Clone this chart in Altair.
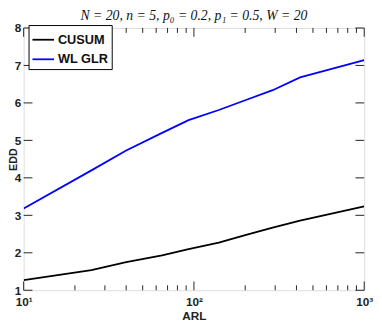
import altair as alt
import pandas as pd

# ---- data ----
arl = [10, 25, 40, 65, 93, 140, 200, 290, 420, 1000]
edd_cusum = [1.27, 1.54, 1.75, 1.93, 2.10, 2.27, 2.47, 2.67, 2.86, 3.24]
edd_wlglr = [3.18, 4.20, 4.73, 5.20, 5.54, 5.81, 6.07, 6.34, 6.68, 7.14]
series = ["CUSUM", "WL GLR"]
colors = ["#000000", "#0000FF"]

x_major = [10, 100, 1000]
x_minor = [20, 30, 40, 50, 60, 70, 80, 90, 200, 300, 400, 500, 600, 700, 800, 900]
y_major = [1, 2, 3, 4, 5, 6, 7, 8]

W, H = 348, 268
FONT = "Liberation Sans"

df = pd.DataFrame(
    {"ARL": arl * 2,
     "EDD": edd_cusum + edd_wlglr,
     "Method": [series[0]] * len(arl) + [series[1]] * len(arl)}
)

xscale = alt.Scale(type="log", domain=[10, 1000], nice=False)
yscale = alt.Scale(domain=[1, 8], nice=False, zero=False)

label_expr = "datum.value == 10 ? '10¹' : datum.value == 100 ? '10²' : '10³'"

x_axis = alt.Axis(title="ARL", values=x_major, labelExpr=label_expr,
                  ticks=False, domain=False, grid=False,
                  labelFlush=False, labelOverlap=False,
                  labelFont=FONT, labelFontWeight="bold", labelFontSize=12,
                  labelColor="#222222", labelPadding=7,
                  titleFont=FONT, titleFontWeight="bold", titleFontSize=12,
                  titleColor="#222222", titlePadding=3)
y_axis = alt.Axis(title="EDD", values=y_major, format="d",
                  ticks=False, domain=False, grid=False,
                  labelFlush=False, labelOverlap=False,
                  labelFont=FONT, labelFontWeight="bold", labelFontSize=12,
                  labelColor="#222222", labelPadding=3,
                  titleFont=FONT, titleFontWeight="bold", titleFontSize=11,
                  titleColor="#222222", titleX=-10, titleY=H / 2,
                  titleBaseline="middle")

lines = alt.Chart(df).mark_line(strokeWidth=1.8, clip=True).encode(
    x=alt.X("ARL:Q", scale=xscale, axis=x_axis),
    y=alt.Y("EDD:Q", scale=yscale, axis=y_axis),
    color=alt.Color("Method:N",
                    scale=alt.Scale(domain=series, range=colors),
                    legend=alt.Legend(title=None, orient="none", legendX=5, legendY=-3,
                                      symbolType="stroke", symbolSize=484,
                                      symbolStrokeWidth=1.8,
                                      labelFont=FONT, labelFontWeight="bold",
                                      labelFontSize=13, labelColor="#111111",
                                      strokeColor="#000000", fillColor="#ffffff",
                                      padding=3, rowPadding=1, labelOffset=3)),
)

def tick_layer(vals, channel, length, side):
    d = pd.DataFrame({"v": vals})
    base = alt.Chart(d).mark_rule(color="#222222", strokeWidth=1)
    if channel == "x":
        enc = dict(x=alt.X("v:Q", scale=xscale, axis=x_axis))
        if side == "bottom":
            enc.update(y=alt.value(H), y2=alt.value(H - length))
        else:
            enc.update(y=alt.value(0), y2=alt.value(length))
    else:
        enc = dict(y=alt.Y("v:Q", scale=yscale, axis=y_axis))
        if side == "left":
            enc.update(x=alt.value(0), x2=alt.value(length))
        else:
            enc.update(x=alt.value(W), x2=alt.value(W - length))
    return base.encode(**enc)

ticks = [
    tick_layer(x_major, "x", 9, "bottom"),
    tick_layer(x_minor, "x", 5, "bottom"),
    tick_layer(x_major, "x", 9, "top"),
    tick_layer(x_minor, "x", 5, "top"),
    tick_layer(y_major, "y", 9, "left"),
    tick_layer(y_major, "y", 9, "right"),
]

chart = alt.layer(lines, *ticks).properties(
    width=W, height=H,
    title=alt.TitleParams("N = 20, n = 5, p₀ = 0.2, p₁ = 0.5, W = 20",
                          font="Liberation Serif", fontSize=14, fontWeight="normal",
                          fontStyle="italic", color="#111111", anchor="middle",
                          baseline="alphabetic", offset=4, dy=16),
    autosize=alt.AutoSizeParams(type="none"),
    padding={"left": 16, "top": 17, "right": 10, "bottom": 28},
).configure_view(stroke="#222222", strokeWidth=1).configure(background="white")

chart.save("out.html", embed_options={"renderer": "svg", "actions": False})
